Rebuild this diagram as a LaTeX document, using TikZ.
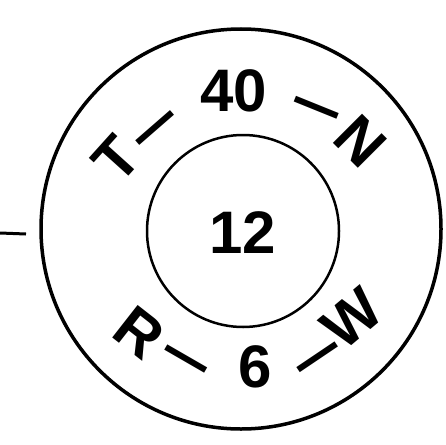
\documentclass[tikz,border=0pt]{standalone}
\usepackage{fontspec}
\setmainfont{Liberation Sans}
\begin{document}
\begin{tikzpicture}[x=1pt,y=-1pt,
  lbl/.style={inner sep=0pt, font=\fontsize{60}{60}\selectfont\bfseries},
  dsh/.style={inner sep=0pt, text height=33.5pt, text depth=0pt, font=\fontsize{62}{62}\selectfont\bfseries}]
\useasboundingbox (0,0) rectangle (446,444);
\node[circle, draw, line width=3.5pt, minimum size=400pt, inner sep=0pt] (outer) at (241,229) {};
\node[circle, draw, line width=2.5pt, minimum size=192pt, inner sep=0pt] (inner) at (243,231) {};
\node[lbl] (num) at (243,233) {12};
\node[lbl, rotate=48] (t) at (116,159) {T};
\node[dsh, rotate=41, xscale=1.5] (d1) at (155,128) {–};
\node[lbl] (forty) at (234,91) {40};
\node[dsh, rotate=-22, xscale=1.5] (d2) at (317,108) {–};
\node[lbl, rotate=-45] (n) at (360,141) {N};
\node[lbl, rotate=-38] (r) at (139,333) {R};
\node[dsh, rotate=-30, xscale=1.5] (d3) at (186,359) {–};
\node[lbl] (six) at (255,367) {6};
\node[dsh, rotate=34, xscale=1.5] (d4) at (318,357) {–};
\node[lbl, rotate=40] (w) at (352,318) {W};
\coordinate (s0) at (0,233);
\coordinate (s1) at (26,234);
\draw[line width=3pt] (s0) -- (s1);
\end{tikzpicture}
\end{document}
